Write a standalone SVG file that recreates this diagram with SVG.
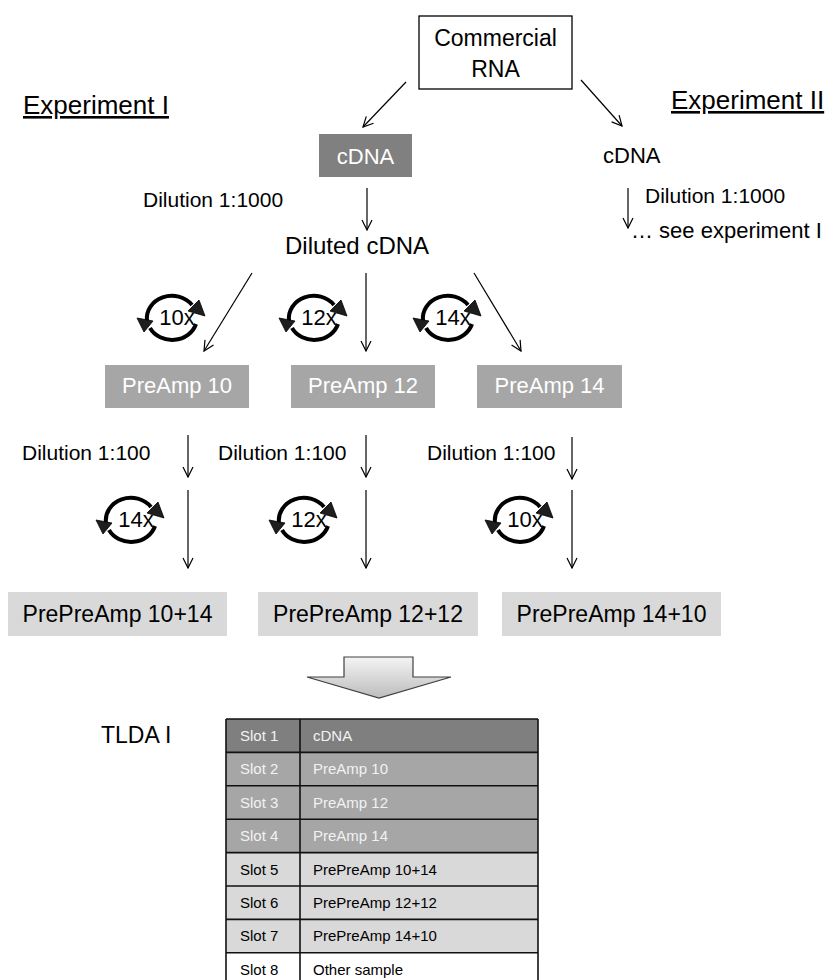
<svg xmlns="http://www.w3.org/2000/svg" width="832" height="980" viewBox="0 0 832 980">
<defs>
<style>
text{font-family:"Liberation Sans",Arial,sans-serif;fill:#000}
.c{text-anchor:middle}
.w{fill:#fff}
.tw{fill:#f2f2f2;font-size:15px}
.tb{font-size:15px}
.conn line{stroke:#000;stroke-width:1.2;marker-end:url(#ah)}
.arc{fill:none;stroke:#000;stroke-width:4}
.hd{fill:#1e1e1e;stroke:#000;stroke-width:0.8;stroke-linejoin:round}
</style>
<marker id="ah" viewBox="0 0 12 12" refX="11" refY="6" markerWidth="12" markerHeight="12" markerUnits="userSpaceOnUse" orient="auto">
<path d="M1,1 L11,6 L1,11" fill="none" stroke="#000" stroke-width="1.2"/>
</marker>
<g id="cyc">
<path class="arc" d="M-25,3 A25 22.5 0 0 1 20,-13"/>
<polygon class="hd" points="16,-7 27,-18 33,-2"/>
<path class="arc" d="M24,6 A25 22.5 0 0 1 -22,10"/>
<polygon class="hd" points="-19,3 -28,14 -35,0"/>
</g>
<linearGradient id="ga" x1="0" y1="0" x2="0" y2="1">
<stop offset="0" stop-color="#f4f4f4"/>
<stop offset="1" stop-color="#bdbdbd"/>
</linearGradient>
</defs>
<rect width="832" height="980" fill="#fff"/>

<g id="labels">
<text x="23" y="114" font-size="26" text-decoration="underline">Experiment I</text>
<text x="671" y="109" font-size="26" text-decoration="underline">Experiment II</text>
</g>

<g id="commercial-rna">
<rect x="419" y="16" width="153" height="73" fill="#fff" stroke="#000" stroke-width="1.3"/>
<text class="c" x="495.5" y="46" font-size="23">Commercial</text>
<text class="c" x="495.5" y="77" font-size="23">RNA</text>
</g>

<g id="cdna-1">
<rect x="319" y="134" width="93" height="43" fill="#808080"/>
<text class="c w" x="365.5" y="164" font-size="22">cDNA</text>
</g>
<g id="cdna-2">
<text x="603" y="163" font-size="22">cDNA</text>
</g>
<g id="dil-1000-1"><text x="143" y="207" font-size="21">Dilution 1:1000</text></g>
<g id="dil-1000-2"><text x="645" y="203" font-size="21">Dilution 1:1000</text></g>
<g id="see-exp"><text x="631" y="238" font-size="22">… see experiment I</text></g>
<g id="diluted-cdna"><text x="285" y="254" font-size="24">Diluted cDNA</text></g>

<g id="cycle-10"><use href="#cyc" x="172" y="318"/><text class="c" x="177" y="325" font-size="22">10x</text></g>
<g id="cycle-12"><use href="#cyc" x="314" y="318"/><text class="c" x="319" y="325" font-size="22">12x</text></g>
<g id="cycle-14"><use href="#cyc" x="448" y="318"/><text class="c" x="453" y="325" font-size="22">14x</text></g>

<g id="preamp-10"><rect x="105" y="365" width="144" height="43" fill="#a6a6a6"/><text class="c w" x="177" y="393" font-size="22">PreAmp 10</text></g>
<g id="preamp-12"><rect x="291" y="365" width="144" height="43" fill="#a6a6a6"/><text class="c w" x="363" y="393" font-size="22">PreAmp 12</text></g>
<g id="preamp-14"><rect x="477" y="365" width="145" height="43" fill="#a6a6a6"/><text class="c w" x="549.5" y="393" font-size="22">PreAmp 14</text></g>

<g id="dil-100-1"><text x="22" y="460" font-size="21">Dilution 1:100</text></g>
<g id="dil-100-2"><text x="218" y="460" font-size="21">Dilution 1:100</text></g>
<g id="dil-100-3"><text x="427" y="460" font-size="21">Dilution 1:100</text></g>

<g id="cycle-14b"><use href="#cyc" x="131" y="520"/><text class="c" x="136" y="527" font-size="22">14x</text></g>
<g id="cycle-12b"><use href="#cyc" x="304" y="520"/><text class="c" x="309" y="527" font-size="22">12x</text></g>
<g id="cycle-10b"><use href="#cyc" x="520" y="520"/><text class="c" x="525" y="527" font-size="22">10x</text></g>

<g id="prepre-10-14"><rect x="8" y="592" width="219" height="44" fill="#d9d9d9"/><text class="c" x="117.5" y="622" font-size="23">PrePreAmp 10+14</text></g>
<g id="prepre-12-12"><rect x="258" y="592" width="220" height="44" fill="#d9d9d9"/><text class="c" x="368" y="622" font-size="23">PrePreAmp 12+12</text></g>
<g id="prepre-14-10"><rect x="502" y="592" width="219" height="44" fill="#d9d9d9"/><text class="c" x="611.5" y="622" font-size="23">PrePreAmp 14+10</text></g>

<g id="big-arrow">
<polygon points="344,657 413,657 413,677 451,677 379,698 307,677 344,677" fill="url(#ga)" stroke="#404040" stroke-width="1.2"/>
</g>

<g id="tlda-label"><text x="101" y="743" font-size="23">TLDA I</text></g>

<g id="tlda-table">
<rect x="226" y="719" width="312" height="33.4" fill="#7f7f7f"/>
<rect x="226" y="752.4" width="312" height="100.2" fill="#a6a6a6"/>
<rect x="226" y="852.6" width="312" height="100.2" fill="#d9d9d9"/>
<rect x="226" y="952.8" width="312" height="33.4" fill="#fff"/>
<g stroke="#111" stroke-width="1.6">
<line x1="226" y1="719" x2="538" y2="719"/>
<line x1="226" y1="752.4" x2="538" y2="752.4"/>
<line x1="226" y1="785.8" x2="538" y2="785.8"/>
<line x1="226" y1="819.2" x2="538" y2="819.2"/>
<line x1="226" y1="852.6" x2="538" y2="852.6"/>
<line x1="226" y1="886" x2="538" y2="886"/>
<line x1="226" y1="919.4" x2="538" y2="919.4"/>
<line x1="226" y1="952.8" x2="538" y2="952.8"/>
<line x1="226" y1="719" x2="226" y2="986"/>
<line x1="300" y1="719" x2="300" y2="986"/>
<line x1="538" y1="719" x2="538" y2="986"/>
</g>
<text class="tw" x="240" y="741">Slot 1</text><text class="tw" x="313" y="741">cDNA</text>
<text class="tw" x="240" y="774.4">Slot 2</text><text class="tw" x="313" y="774.4">PreAmp 10</text>
<text class="tw" x="240" y="807.8">Slot 3</text><text class="tw" x="313" y="807.8">PreAmp 12</text>
<text class="tw" x="240" y="841.2">Slot 4</text><text class="tw" x="313" y="841.2">PreAmp 14</text>
<text class="tb" x="240" y="874.6">Slot 5</text><text class="tb" x="313" y="874.6">PrePreAmp 10+14</text>
<text class="tb" x="240" y="908">Slot 6</text><text class="tb" x="313" y="908">PrePreAmp 12+12</text>
<text class="tb" x="240" y="941.4">Slot 7</text><text class="tb" x="313" y="941.4">PrePreAmp 14+10</text>
<text class="tb" x="240" y="974.8">Slot 8</text><text class="tb" x="313" y="974.8">Other sample</text>
</g>

<g id="connectors" class="conn">
<line x1="406" y1="82" x2="363" y2="127"/>
<line x1="581" y1="80" x2="622" y2="126"/>
<line x1="367" y1="188" x2="367" y2="230"/>
<line x1="628" y1="188" x2="628" y2="228"/>
<line x1="252" y1="273" x2="204" y2="351"/>
<line x1="366" y1="273" x2="366" y2="351"/>
<line x1="474" y1="273" x2="521" y2="351"/>
<line x1="188" y1="435" x2="188" y2="477"/>
<line x1="366" y1="435" x2="366" y2="477"/>
<line x1="572" y1="437" x2="572" y2="479"/>
<line x1="188" y1="490" x2="188" y2="568"/>
<line x1="366" y1="490" x2="366" y2="568"/>
<line x1="572" y1="490" x2="572" y2="568"/>
</g>
</svg>
